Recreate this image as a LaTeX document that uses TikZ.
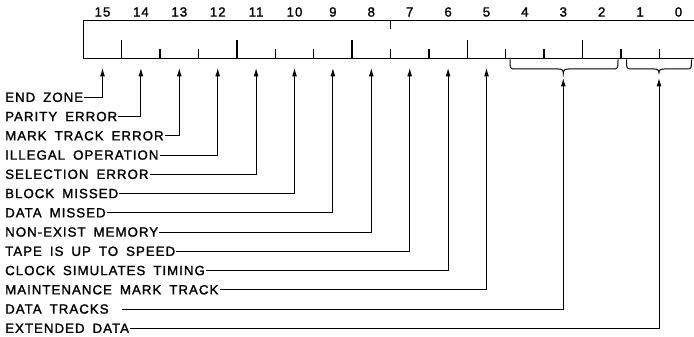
\documentclass[tikz,border=0pt]{standalone}
\usepackage{fontspec}
\setmainfont[LetterSpace=7.5,WordSpace=1.7,FakeBold=1.5]{Liberation Sans}
\usetikzlibrary{arrows.meta}
\newcommand\lbl{\fontsize{13.3}{15}\selectfont}
\begin{document}
\begin{tikzpicture}[x=1pt,y=-1pt,
  lab/.style={anchor=west,inner sep=1pt,font=\lbl},
  num/.style={inner sep=0pt,font=\lbl},
  reg/.style={line width=1.5pt},
  tickmark/.style={line width=1.3pt},
  conn/.style={line width=1pt,-{Latex[length=8.5pt,width=5pt]}},
  brc/.style={line width=1pt}]
\useasboundingbox (0,0) rectangle (694,337);
% bit numbers
\foreach \k in {0,...,15} \node[num] (n\k) at ({102.5+(15-\k)*38.4},12) {\k};
% register
\draw[reg] (694,20.5) -- (83.3,20.5) -- (83.3,58.5) -- (694,58.5);
\foreach \j in {1,4,7,10,13} \draw[tickmark] ({83.3+\j*38.4},58.5) -- ++(0,-18);
\foreach \j in {2,3,5,6,8,9,11,12,14,15} \draw[tickmark] ({83.3+\j*38.4},58.5) -- ++(0,-9.5);
\draw[tickmark] ({83.3+8*38.4},20.5) -- ++(0,9);
% braces
\draw[brc] (510,59.5) .. controls (510,69) and (510,69) .. (516,69) -- (558,69)
  .. controls (562,69) and (563.3,70) .. (563.3,73.5)
  .. controls (563.3,70) and (564.6,69) .. (568.6,69) -- (612,69)
  .. controls (618,69) and (618,69) .. (618,59.5);
\draw[brc] (626.5,59.5) .. controls (626.5,69) and (626.5,69) .. (632.5,69) -- (654,69)
  .. controls (658,69) and (659,70) .. (659,73.5)
  .. controls (659,70) and (660,69) .. (664,69) -- (685.5,69)
  .. controls (691.5,69) and (691.5,69) .. (691.5,59.5);
% arrow tips
\foreach \k in {5,...,15} \coordinate (a\k) at ({102.5+(15-\k)*38.4},68);
\coordinate (b3) at (563.3,78);
\coordinate (b0) at (659,78);
% labels
\node[lab] (l0)  at (4,97.3)  {END ZONE};
\node[lab] (l1)  at (4,116.55) {PARITY ERROR};
\node[lab] (l2)  at (4,135.8) {MARK TRACK ERROR};
\node[lab] (l3)  at (4,155.05) {ILLEGAL OPERATION};
\node[lab] (l4)  at (4,174.3) {SELECTION ERROR};
\node[lab] (l5)  at (4,193.55) {BLOCK MISSED};
\node[lab] (l6)  at (4,212.8) {DATA MISSED};
\node[lab] (l7)  at (4,232.05) {NON-EXIST MEMORY};
\node[lab] (l8)  at (4,251.3) {TAPE IS UP TO SPEED};
\node[lab] (l9)  at (4,270.55) {CLOCK SIMULATES TIMING};
\node[lab] (l10) at (4,289.8) {MAINTENANCE MARK TRACK};
\node[lab] (l11) at (4,309.05) {DATA TRACKS};
\node[lab] (l12) at (4,328.3) {EXTENDED DATA};
% connectors
\draw[conn] (l0.east) -| (a15);
\draw[conn] (l1.east) -| (a14);
\draw[conn] (l2.east) -| (a13);
\draw[conn] (l3.east) -| (a12);
\draw[conn] (l4.east) -| (a11);
\draw[conn] (l5.east) -| (a10);
\draw[conn] (l6.east) -| (a9);
\draw[conn] (l7.east) -| (a8);
\draw[conn] (l8.east) -| (a7);
\draw[conn] (l9.east) -| (a6);
\draw[conn] (l10.east) -| (a5);
\draw[conn] ([xshift=12pt]l11.east) -| (b3);
\draw[conn] (l12.east) -| (b0);
\end{tikzpicture}
\end{document}
